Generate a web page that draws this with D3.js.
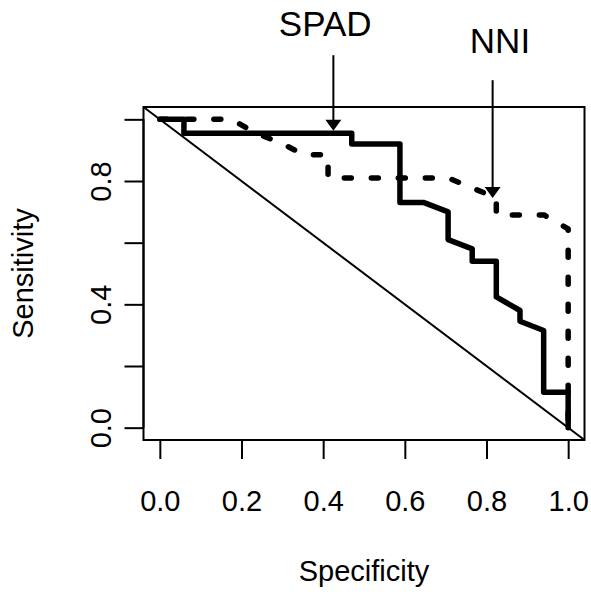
<!DOCTYPE html>
<html>
<head>
<meta charset="utf-8">
<script src="https://cdn.jsdelivr.net/npm/d3@7"></script>
<style>
  body { margin: 0; background: white; }
  svg text { font-family: "Liberation Sans", Arial, sans-serif; fill: black; }
</style>
</head>
<body>
<svg id="chart"></svg>
<script>
//ROC curves (specificity, sensitivity)
var spadSpec = [0, 0.059, 0.059, 0.47, 0.47, 0.588, 0.588, 0.647, 0.706, 0.706, 0.765, 0.765, 0.824, 0.824, 0.882, 0.882, 0.94, 0.94, 1.0, 1.0];
var spadSens = [1, 1, 0.955, 0.955, 0.92, 0.92, 0.73, 0.73, 0.70, 0.61, 0.58, 0.54, 0.54, 0.424, 0.38, 0.345, 0.315, 0.115, 0.115, 0];

var nniSpec = [0, 0.176, 0.235, 0.294, 0.353, 0.412, 0.412, 0.706, 0.824, 0.824, 0.941, 1.0, 1.0];
var nniSens = [1, 1, 0.955, 0.925, 0.885, 0.885, 0.81, 0.81, 0.745, 0.69, 0.69, 0.645, 0];

//Axis ticks
var xTicks = [0, 0.2, 0.4, 0.6, 0.8, 1.0];
var yTicks = [0, 0.2, 0.4, 0.6, 0.8, 1.0];
var yTickLabels = ["0.0", "", "0.4", "", "0.8", ""];

//Annotations: label, text position, arrow from/to
var noteLabels = ["SPAD", "NNI"];
var noteTextX = [0.405, 0.833];
var noteTextY = [1.31, 1.255];
var noteArrowX = [0.425, 0.815];
var noteArrowTop = [1.208, 1.127];
var noteArrowTip = [0.963, 0.745];

var dimensions = {
    width: 591,
    height: 594,
    box: { left: 143.5, right: 584.5, top: 107, bottom: 440 }
};

var svg = d3.select("#chart")
            .attr("width", dimensions.width)
            .attr("height", dimensions.height);

//R style scales: 4% padding each side
var xScale = d3.scaleLinear()
               .domain([-0.04, 1.04])
               .range([dimensions.box.left, dimensions.box.right]);
var yScale = d3.scaleLinear()
               .domain([-0.04, 1.04])
               .range([dimensions.box.bottom, dimensions.box.top]);

//Reference diagonal, corner to corner
svg.append("line")
   .attr("x1", xScale(-0.04)).attr("y1", yScale(1.04))
   .attr("x2", xScale(1.04)).attr("y2", yScale(-0.04))
   .attr("stroke", "black")
   .attr("stroke-width", 2);

var line = d3.line()
             .x(function(d){ return xScale(d[0]); })
             .y(function(d){ return yScale(d[1]); });

var spadData = spadSpec.map(function(v, i){ return [v, spadSens[i]]; });
var nniData = nniSpec.map(function(v, i){ return [v, nniSens[i]]; });

//NNI dashed curve
svg.append("path")
   .datum(nniData)
   .attr("d", line)
   .attr("fill", "none")
   .attr("stroke", "black")
   .attr("stroke-width", 5.5)
   .attr("stroke-linecap", "round")
   .attr("stroke-linejoin", "round")
   .attr("stroke-dasharray", "7,20");

//SPAD solid curve
svg.append("path")
   .datum(spadData)
   .attr("d", line)
   .attr("fill", "none")
   .attr("stroke", "black")
   .attr("stroke-width", 5.5)
   .attr("stroke-linecap", "round")
   .attr("stroke-linejoin", "round");

//Plot box
svg.append("rect")
   .attr("x", dimensions.box.left)
   .attr("y", dimensions.box.top)
   .attr("width", dimensions.box.right - dimensions.box.left)
   .attr("height", dimensions.box.bottom - dimensions.box.top)
   .attr("fill", "none")
   .attr("stroke", "black")
   .attr("stroke-width", 2);

//X axis
var xAxis = svg.append("g")
               .attr("transform", "translate(0," + dimensions.box.bottom + ")")
               .call(d3.axisBottom(xScale)
                       .tickValues(xTicks)
                       .tickFormat(d3.format(".1f"))
                       .tickSizeOuter(0)
                       .tickSizeInner(19)
                       .tickPadding(0));
xAxis.select(".domain")
     .attr("d", "M" + xScale(0) + ",0H" + xScale(1))
     .attr("stroke-width", 2);
xAxis.selectAll(".tick line").attr("stroke-width", 2);
xAxis.selectAll(".tick text")
     .attr("y", 71)
     .attr("dy", null)
     .style("font-size", "29px")
     .style("font-family", "Liberation Sans, Arial, sans-serif");

//Y axis
var yAxis = svg.append("g")
               .attr("transform", "translate(" + dimensions.box.left + ",0)")
               .call(d3.axisLeft(yScale)
                       .tickValues(yTicks)
                       .tickFormat(function(d, i){ return yTickLabels[i]; })
                       .tickSizeOuter(0)
                       .tickSizeInner(19)
                       .tickPadding(0));
yAxis.select(".domain")
     .attr("d", "M0," + yScale(0) + "V" + yScale(1))
     .attr("stroke-width", 2);
yAxis.selectAll(".tick line").attr("stroke-width", 2);
yAxis.selectAll(".tick text")
     .attr("x", null)
     .attr("dy", null)
     .attr("text-anchor", "middle")
     .attr("transform", "translate(-33,0) rotate(-90)")
     .style("font-size", "29px")
     .style("font-family", "Liberation Sans, Arial, sans-serif");

//Axis titles
svg.append("text")
   .attr("x", (dimensions.box.left + dimensions.box.right) / 2)
   .attr("y", 581)
   .attr("text-anchor", "middle")
   .style("font-size", "29px")
   .text("Specificity");

svg.append("text")
   .attr("transform", "translate(33," + ((dimensions.box.top + dimensions.box.bottom) / 2) + ") rotate(-90)")
   .attr("text-anchor", "middle")
   .style("font-size", "29px")
   .text("Sensitivity");

//Annotations with arrows
var notes = noteLabels.map(function(label, i){
    return { label: label, tx: noteTextX[i], ty: noteTextY[i],
             ax: noteArrowX[i], a0: noteArrowTop[i], a1: noteArrowTip[i] };
});

svg.selectAll(".note-text")
   .data(notes)
   .join("text")
   .attr("class", "note-text")
   .attr("x", function(d){ return xScale(d.tx); })
   .attr("y", function(d){ return yScale(d.ty); })
   .attr("dy", "0.36em")
   .attr("text-anchor", "middle")
   .style("font-size", "35px")
   .text(function(d){ return d.label; });

svg.selectAll(".note-arrow")
   .data(notes)
   .join("line")
   .attr("class", "note-arrow")
   .attr("x1", function(d){ return xScale(d.ax); })
   .attr("x2", function(d){ return xScale(d.ax); })
   .attr("y1", function(d){ return yScale(d.a0); })
   .attr("y2", function(d){ return yScale(d.a1) - 6; })
   .attr("stroke", "black")
   .attr("stroke-width", 2);

svg.selectAll(".note-head")
   .data(notes)
   .join("path")
   .attr("class", "note-head")
   .attr("d", function(d){
       var x = xScale(d.ax), y = yScale(d.a1);
       return "M" + x + "," + y + "L" + (x - 8) + "," + (y - 11) + "L" + (x + 8) + "," + (y - 11) + "Z";
   })
   .attr("fill", "black");
</script>
</body>
</html>
